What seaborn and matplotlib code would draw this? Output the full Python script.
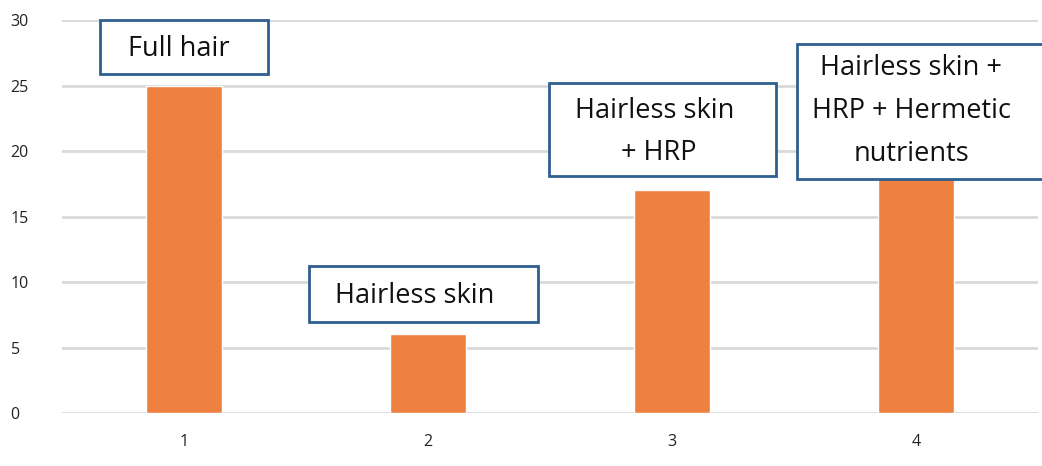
import matplotlib
matplotlib.use("Agg")
import matplotlib.pyplot as plt
import seaborn as sns
import pandas as pd
from matplotlib.patches import Rectangle

# data
groups = ["1", "2", "3", "4"]
values = [25, 6, 17, 20]
labels = ["Full hair", "Hairless skin", "Hairless skin\n + HRP",
          "Hairless skin +\nHRP + Hermetic\nnutrients"]

BAR = "#EE8040"
EDGE = "#2E5F8F"
GRID = "#D9D9D9"

sns.set_theme(style="whitegrid")
plt.rcParams["font.family"] = ["Open Sans", "DejaVu Sans"]

df = pd.DataFrame({"group": groups, "value": values})

fig = plt.figure(figsize=(10.42, 4.66), dpi=100)
ax = fig.add_axes([0.0595, 0.1137, 0.9367, 0.8433])
sns.barplot(data=df, x="group", y="value", color=BAR, width=0.31,
            saturation=1, ax=ax, zorder=2)

ax.set_xlim(-0.5, 3.5)
ax.set_ylim(0, 30)
ax.set_yticks(range(0, 31, 5))
ax.set_xlabel("")
ax.set_ylabel("")
for s in ax.spines.values():
    s.set_visible(False)
ax.grid(axis="x", visible=False)
ax.grid(axis="y", color=GRID, linewidth=2)
ax.set_axisbelow(True)
ax.tick_params(axis="y", length=0, pad=37, labelsize=11.5, labelcolor="#222222")
ax.tick_params(axis="x", length=0, pad=15, labelsize=11.5, labelcolor="#222222")
for t in ax.get_yticklabels():
    t.set_horizontalalignment("left")

# annotation boxes: (x0, x1, y0, y1) in data units, text centre
boxes = [
    (-0.344, 0.344, 25.9, 30.0, -0.02, 27.8),
    (0.512, 1.451, 6.95, 11.2, 0.947, 8.95),
    (1.496, 2.426, 18.1, 25.2, 1.93, 21.45),
    (2.512, 3.60, 17.9, 28.2, 2.98, 23.05),
]
for (x0, x1, y0, y1, tx, ty), lab in zip(boxes, labels):
    ax.add_patch(Rectangle((x0, y0), x1 - x0, y1 - y0, facecolor="white",
                           edgecolor=EDGE, linewidth=2, zorder=4, clip_on=False))
    ax.text(tx, ty, lab, ha="center", va="center", fontsize=19.5,
            linespacing=1.7, color="#111111", zorder=5)

plt.savefig("out.png", dpi=100)
